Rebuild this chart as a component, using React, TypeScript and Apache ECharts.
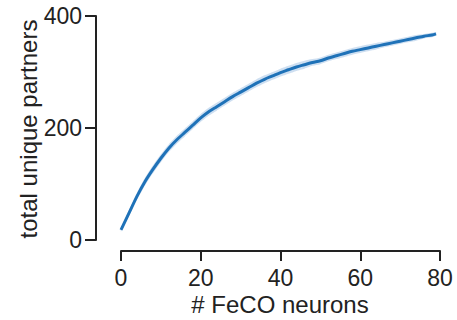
import React, { useEffect, useRef } from "react";
import * as echarts from "echarts";

const xValues = [0, 2, 4, 6, 8, 10, 12, 14, 16, 18, 20, 22, 24, 26, 28, 30, 32, 34, 36, 38, 40, 42, 44, 46, 48, 50, 52, 54, 56, 58, 60, 62, 64, 66, 68, 70, 72, 74, 76, 78, 79];
const meanPartners = [18, 48, 78, 104, 126, 146, 164, 179, 192, 205, 218, 229, 238, 247, 256, 264, 272, 280, 287, 293, 299, 304, 309, 313, 317, 320, 325, 329, 333, 337, 340, 343, 346, 349, 352, 355, 358, 361, 364, 366, 368];
const spread = [3, 5, 6, 7, 7, 7, 7, 7, 7, 7, 7, 7, 7, 7, 7, 7, 7, 7, 7, 7, 7, 7, 7, 7, 6, 6, 6, 6, 6, 6, 6, 6, 6, 5, 5, 5, 5, 5, 4, 4, 3];
const xTicks = [0, 20, 40, 60, 80];
const yTicks = [0, 200, 400];

const FONT = "'Liberation Sans', Arial, Helvetica, sans-serif";
const TEXT = "#222222";

export default function App() {
  const ref = useRef<HTMLDivElement>(null);
  useEffect(() => {
    document.body.style.margin = "0";
    if (!ref.current) return;
    const chart = echarts.init(ref.current, undefined, { renderer: "svg" });
    const mean = xValues.map((x, i) => [x, meanPartners[i]]);
    chart.setOption({
      animation: false,
      grid: { left: 121, right: 17, top: 16, bottom: 80, containLabel: false },
      xAxis: {
        type: "value",
        min: xTicks[0],
        max: xTicks[xTicks.length - 1],
        interval: 20,
        offset: 11,
        splitLine: { show: false },
        axisLine: { show: true, onZero: false, lineStyle: { color: TEXT, width: 2 } },
        axisTick: { show: true, length: 10, lineStyle: { color: TEXT, width: 2 } },
        axisLabel: { color: TEXT, fontSize: 23, fontFamily: FONT, margin: 15 },
      },
      yAxis: {
        type: "value",
        min: yTicks[0],
        max: yTicks[yTicks.length - 1],
        interval: 200,
        offset: 25,
        splitLine: { show: false },
        axisLine: { show: true, onZero: false, lineStyle: { color: TEXT, width: 2 } },
        axisTick: { show: true, length: 11, lineStyle: { color: TEXT, width: 2 } },
        axisLabel: { color: TEXT, fontSize: 23, fontFamily: FONT, margin: 14 },
      },
      graphic: [
        {
          type: "text",
          x: 28,
          y: 129,
          rotation: Math.PI / 2,
          style: {
            text: "total unique partners",
            fill: TEXT,
            fontSize: 24,
            fontFamily: FONT,
            align: "center",
            verticalAlign: "middle",
          },
        },
        {
          type: "text",
          x: 280,
          y: 304,
          style: {
            text: "# FeCO neurons",
            fill: TEXT,
            fontSize: 24,
            fontFamily: FONT,
            align: "center",
            verticalAlign: "middle",
          },
        },
      ],
      series: [
        {
          type: "custom",
          data: xValues.map((x, i) => [x, meanPartners[i]]),
          silent: true,
          renderItem: (params: any, api: any) => {
            if (params.dataIndex !== 0) return null;
            const upper = xValues.map((x, i) => api.coord([x, meanPartners[i] + spread[i]]));
            const lower = xValues.map((x, i) => api.coord([x, meanPartners[i] - spread[i]])).reverse();
            return {
              type: "polygon",
              shape: { points: upper.concat(lower), smooth: 0.2 },
              style: { fill: "#c9dcef", opacity: 0.9 },
            };
          },
        },
        {
          type: "line",
          data: mean,
          symbol: "none",
          smooth: 0.3,
          lineStyle: { color: "#1f72b8", width: 3 },
        },
      ],
    });
    return () => chart.dispose();
  }, []);
  return <div ref={ref} style={{ width: 457, height: 320 }} />;
}
